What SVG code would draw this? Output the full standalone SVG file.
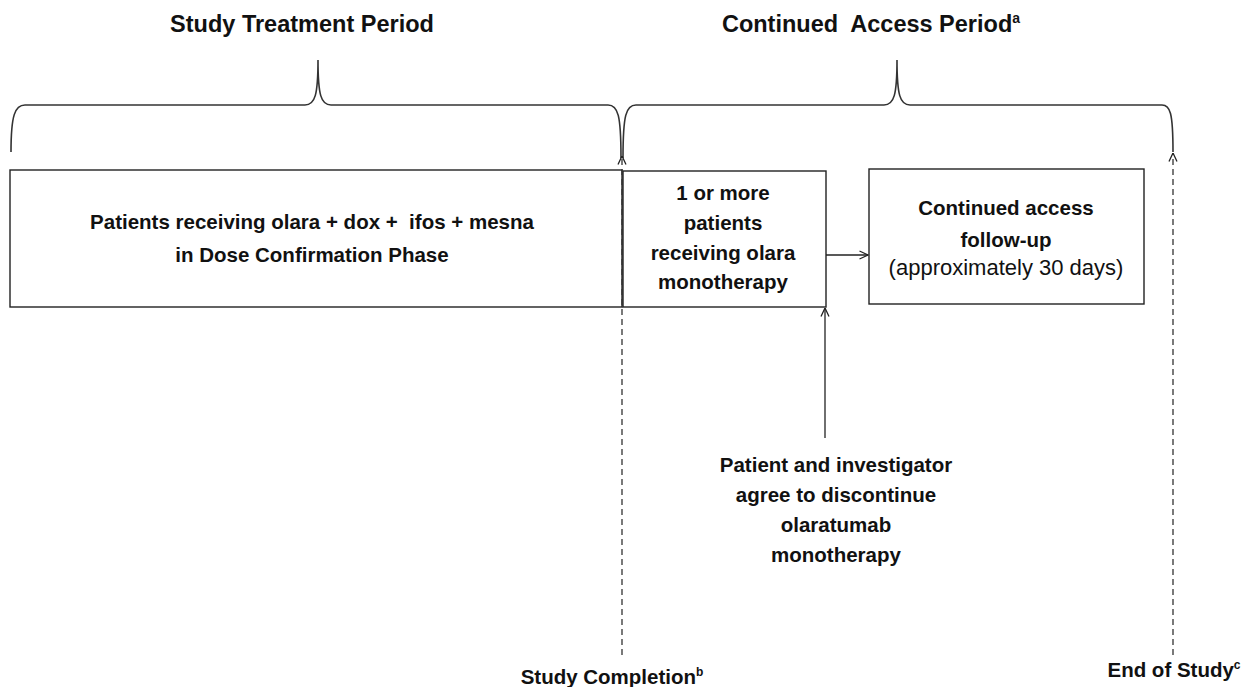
<svg xmlns="http://www.w3.org/2000/svg" width="1243" height="687" viewBox="0 0 1243 687">
<style>
text{font-family:"Liberation Sans",Arial,sans-serif;fill:#111;text-anchor:middle}
.t{font-size:23.5px;font-weight:bold}
.b{font-size:20.5px;font-weight:bold}
.n{font-size:22px}
.box{fill:#fff;stroke:#222;stroke-width:1.4}
.line{fill:none;stroke:#222;stroke-width:1.3}
.dash{fill:none;stroke:#333;stroke-width:1.3;stroke-dasharray:6 4}
.brace{fill:none;stroke:#333;stroke-width:1.6}
</style>
<defs>
<marker id="open" viewBox="0 0 10 10" refX="9.5" refY="5" markerWidth="10" markerHeight="10" markerUnits="userSpaceOnUse" orient="auto">
<path d="M1,1 L9.5,5 L1,9" fill="none" stroke="#222" stroke-width="1.3"/>
</marker>
</defs>
<rect width="1243" height="687" fill="#fff"/>
<g id="titles">
<text class="t" x="302" y="32">Study Treatment Period</text>
<text class="t" x="871" y="32" xml:space="preserve">Continued  Access Period<tspan font-size="14" dy="-9">a</tspan></text>
</g>
<g id="braces">
<path class="brace" d="M11,152 C11,115 15,105 25,105 L305,105 C315,105 318,95 318,60 C318,95 321,105 331,105 L608,105 C618,105 621,115 621,158"/>
<path class="brace" d="M623,158 C623,115 626,105 636,105 L884,105 C894,105 897,95 897,60 C897,95 900,105 910,105 L1162,105 C1170,105 1173,112 1173,152"/>
</g>
<g id="node-dose">
<rect class="box" x="10" y="170" width="612" height="137"/>
<text class="b" x="312" y="229" xml:space="preserve">Patients receiving olara + dox +  ifos + mesna</text>
<text class="b" x="312" y="262">in Dose Confirmation Phase</text>
</g>
<g id="node-mono">
<rect class="box" x="623" y="171" width="203" height="136"/>
<text class="b" x="723" y="200">1 or more</text>
<text class="b" x="723" y="230">patients</text>
<text class="b" x="723" y="260">receiving olara</text>
<text class="b" x="723" y="289">monotherapy</text>
</g>
<g id="node-followup">
<rect class="box" x="869" y="169" width="275" height="135"/>
<text class="b" x="1006" y="215">Continued access</text>
<text class="b" x="1006" y="247">follow-up</text>
<text class="n" x="1006" y="275">(approximately 30 days)</text>
</g>
<g id="node-discontinue">
<text class="b" x="836" y="472">Patient and investigator</text>
<text class="b" x="836" y="502">agree to discontinue</text>
<text class="b" x="836" y="532">olaratumab</text>
<text class="b" x="836" y="562">monotherapy</text>
</g>
<g id="node-completion">
<text class="b" x="612" y="684">Study Completion<tspan font-size="12" dy="-8">b</tspan></text>
</g>
<g id="node-end">
<text class="b" x="1174" y="677">End of Study<tspan font-size="12" dy="-8">c</tspan></text>
</g>
<g id="connectors">
<line class="dash" x1="622" y1="655" x2="622" y2="156" marker-end="url(#open)"/>
<line class="dash" x1="1173" y1="655" x2="1173" y2="153" marker-end="url(#open)"/>
<line class="line" x1="826" y1="255" x2="868" y2="255" marker-end="url(#open)"/>
<line class="line" x1="825" y1="438" x2="825" y2="308" marker-end="url(#open)"/>
</g>
</svg>
